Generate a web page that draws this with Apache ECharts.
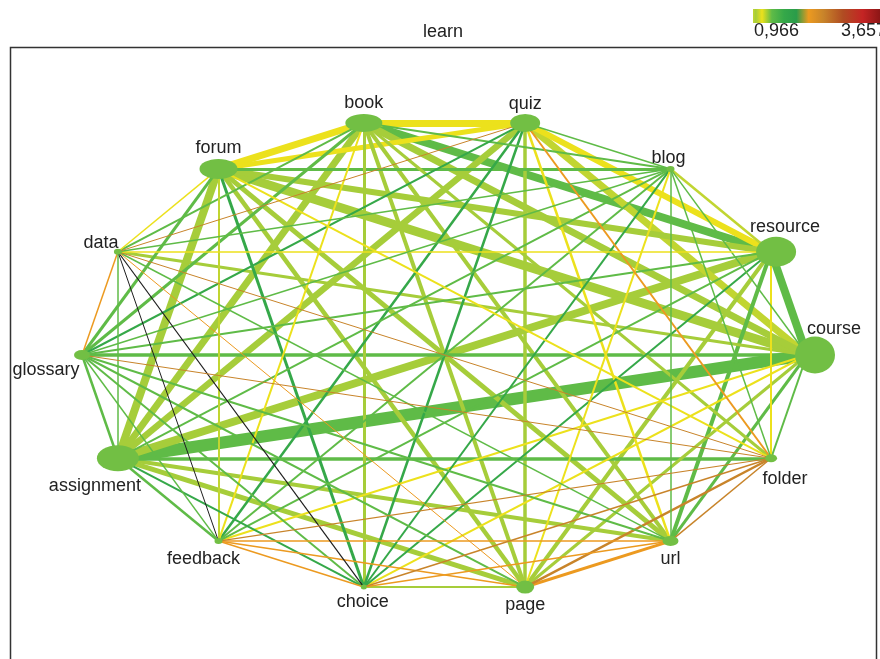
<!DOCTYPE html>
<html><head><meta charset="utf-8">
<script src="https://cdn.jsdelivr.net/npm/echarts@6/dist/echarts.min.js"></script>
<style>html,body{margin:0;padding:0;background:#fff}#c{width:880px;height:659px}</style>
</head><body><div id="c"></div>
<script>
// ---------- data ----------
const chartTitle = 'learn';
const nodeNames = ['course','resource','blog','quiz','book','forum','data','glossary','assignment','feedback','choice','page','url','folder'];
// two activity measures per node (drive ellipse width / height)
const nodeActivityA = [40, 40, 8, 30, 37, 38, 8, 16, 42, 8, 6, 18, 16, 12];
const nodeActivityB = [37, 30, 6, 18, 18, 20, 6, 10, 26, 6, 5, 13, 10, 8];
// association rules (edges)
const edgeSource = [0,0,0,0,0,0,0,0,0,0,0,0,0, 1,1,1,1,1,1,1,1,1,1,1,1, 2,2,2,2,2,2,2,2,2,2,2, 3,3,3,3,3,3,3,3,3,3, 4,4,4,4,4,4,4,4,4, 5,5,5,5,5,5,5,5, 6,6,6,6,6,6,6, 7,7,7,7,7,7, 8,8,8,8,8, 9,9,9,9, 10,10,10, 11,11, 12];
const edgeTarget = [1,2,3,4,5,6,7,8,9,10,11,12,13, 2,3,4,5,6,7,8,9,10,11,12,13, 3,4,5,6,7,8,9,10,11,12,13, 4,5,6,7,8,9,10,11,12,13, 5,6,7,8,9,10,11,12,13, 6,7,8,9,10,11,12,13, 7,8,9,10,11,12,13, 8,9,10,11,12,13, 9,10,11,12,13, 10,11,12,13, 11,12,13, 12,13, 13];
const edgeSupport = [8,1.5,7,7,9,3,3.5,12,2,2,3,3,2, 2.5,6,8,6,1.5,2,8,2,2,4,4,2, 1.5,2,3,1.5,1.5,2,2,2,2,1.5,1.5, 7,5,1,2,6.5,2.5,2.5,3.5,2.5,2, 7,2,3,7,2,3,4,4,3, 1.5,3,8,2,3,4.5,5,2, 1.5,1.5,1,1.2,1,1.5,1, 2.5,1.5,2,2,2,1, 2.5,2,5,4,3.5, 1.5,1.5,1.5,1.2, 2,1.5,1.5, 3,2.5, 1.5];
const edgeLift = [1.35,1.35,0.97,1.02,1.02,1.02,1.35,1.35,1.15,1.15,1.02,1.35,1.35, 0.97,1.15,1.35,1.02,1.15,1.35,1.02,1.35,1.6,1.02,1.35,1.15, 1.35,1.35,1.35,1.35,1.35,1.35,1.35,1.6,1.15,1.35,1.35, 1.15,1.15,2.4,1.6,1.02,1.6,1.6,1.02,1.15,2.1, 1.15,1.35,1.35,1.02,1.15,1.02,1.02,1.02,1.02, 1.15,1.35,1.02,0.97,1.6,1.02,1.02,1.15, 2.1,1.35,3.9,3.9,2.1,1.35,2.4, 1.35,1.35,1.35,1.35,1.35,2.4, 1.35,1.6,1.02,1.02,1.35, 2.1,2.1,2.1,2.4, 1.02,2.1,2.4, 2.1,2.4, 2.4];
const legendMin = 0.966, legendMax = 3.657;
const legendLabels = ['0,966', '3,657'];

// ---------- styles ----------
const liftStops  = [0.966, 1.02, 1.15, 1.35, 1.6, 1.85, 2.1, 2.4, 2.8, 3.2, 3.657];
const liftColors = ['#c3d630','#a6cd3a','#ece11c','#5fbb47','#35a849','#2a9c4a','#ec9a20','#c8842a','#b04c22','#c42424','#7c1212'];
function hex(c){return [parseInt(c.slice(1,3),16),parseInt(c.slice(3,5),16),parseInt(c.slice(5,7),16)];}
function liftColor(v){
  if (v > legendMax) return '#1e1e1e';
  if (v <= liftStops[0]) return liftColors[0];
  for (let i=1;i<liftStops.length;i++){
    if (v <= liftStops[i]){
      const t=(v-liftStops[i-1])/(liftStops[i]-liftStops[i-1]);
      const a=hex(liftColors[i-1]), b=hex(liftColors[i]);
      return 'rgb('+a.map((x,k)=>Math.round(x+(b[k]-x)*t)).join(',')+')';
    }
  }
  return liftColors[liftColors.length-1];
}
const widthScale = 1.0, nodeScale = 1.0;
const labelOffsets = [[27,-26],[14,-25],[-2,-11],[0,-19],[0,-20],[0,-21],[-17,-9],[-36,15],[-23,28],[-15,18],[-1,15],[0,18],[0,18],[14,21]];
const symbolOffsets = [[8,0],[5,0],[0,0],[0,0],[0,0],[0,0],[0,0],[0,0],[0,0],[0,0],[0,0],[0,0],[0,0],[0,0]];
const font = 'Liberation Sans, Arial, sans-serif';

const n = nodeNames.length;
const nodes = nodeNames.map((name,i)=>{
  const th = 2*Math.PI*i/n;
  return {
    name, value:[Math.cos(th), Math.sin(th)],
    symbolSize:[nodeActivityA[i]*nodeScale, nodeActivityB[i]*nodeScale],
    symbolOffset:symbolOffsets[i],
    label:{offset:[labelOffsets[i][0]-symbolOffsets[i][0], labelOffsets[i][1]-symbolOffsets[i][1]]}
  };
});
const order = edgeSource.map((_,k)=>k).sort((a,b)=>edgeSupport[b]-edgeSupport[a]);
const links = order.map(k=>({
  source:nodeNames[edgeSource[k]], target:nodeNames[edgeTarget[k]],
  lineStyle:{width:edgeSupport[k]*widthScale, color:liftColor(edgeLift[k])}
}));

const gradStops = liftStops.map((s,i)=>({offset:(s-legendMin)/(legendMax-legendMin), color:liftColors[i]}));

const chart = echarts.init(document.getElementById('c'), null, {renderer:'canvas'});
chart.setOption({
  animation:false,
  backgroundColor:'#fff',
  grid:{left:82, top:117, width:725, height:476},
  xAxis:{type:'value', min:-1, max:1, show:false},
  yAxis:{type:'value', min:-1, max:1, show:false},
  graphic:[
    {type:'rect', z:-10, shape:{x:10.5,y:47.5,width:866,height:630}, style:{fill:'none', stroke:'#333', lineWidth:1.5}},
    {type:'text', style:{text:chartTitle, x:443, y:32, textAlign:'center', textVerticalAlign:'middle', font:'18px '+font, fill:'#222'}},
    {type:'rect', shape:{x:753,y:9,width:132,height:14}, style:{fill:new echarts.graphic.LinearGradient(0,0,1,0,gradStops)}},
    {type:'text', style:{text:legendLabels[0], x:754, y:31, textAlign:'left', textVerticalAlign:'middle', font:'18px '+font, fill:'#222'}},
    {type:'text', style:{text:legendLabels[1], x:886, y:31, textAlign:'right', textVerticalAlign:'middle', font:'18px '+font, fill:'#222'}}
  ],
  series:[{
    type:'graph', coordinateSystem:'cartesian2d', layout:'none',
    data:nodes, links:links,
    symbol:'circle',
    itemStyle:{color:'#72bf44'},
    edgeSymbol:['none','none'],
    lineStyle:{opacity:1, curveness:0},
    label:{show:true, position:'inside', fontSize:18, fontFamily:font, color:'#222', align:'center', verticalAlign:'middle'},
    emphasis:{disabled:true}, silent:true
  }]
});
</script></body></html>
